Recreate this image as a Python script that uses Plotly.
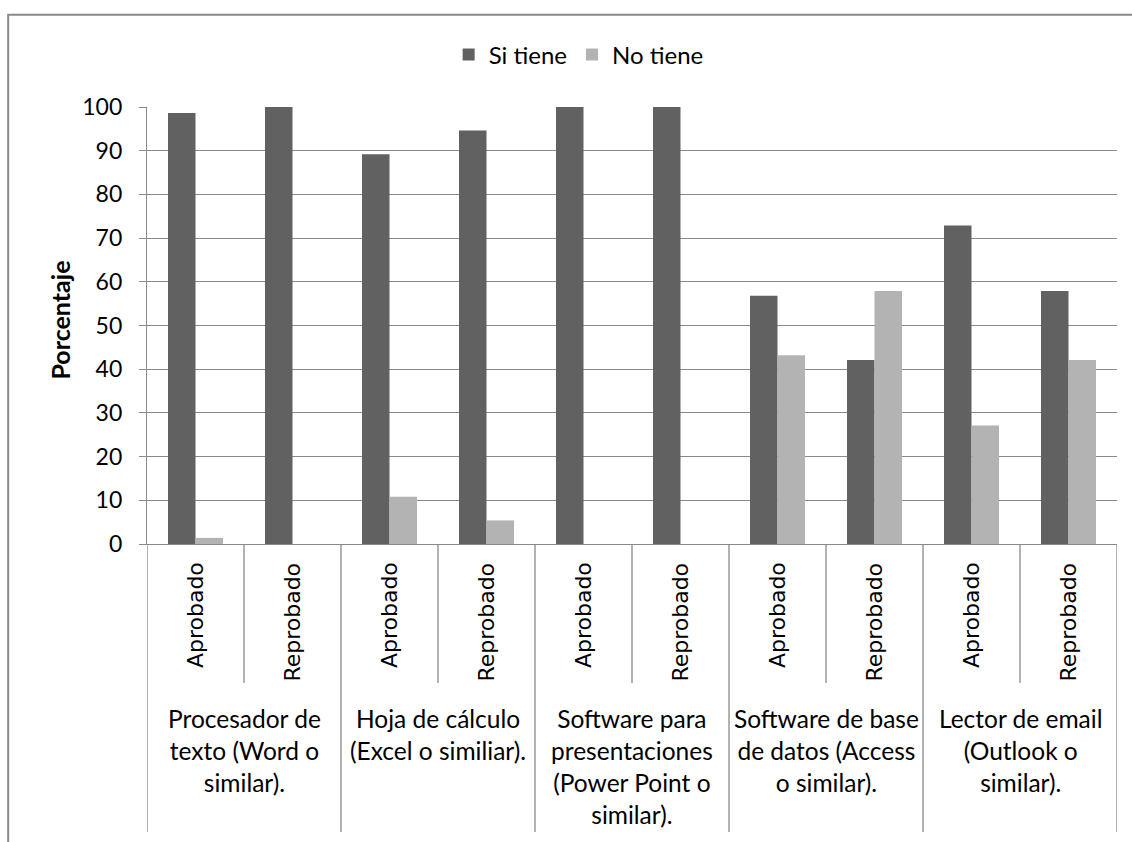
import plotly.graph_objects as go

# ---- data ----
groups = [
    "Procesador de<br>texto (Word o<br>similar).",
    "Hoja de cálculo<br>(Excel o similiar).",
    "Software para<br>presentaciones<br>(Power Point o<br>similar).",
    "Software de base<br>de datos (Access<br>o similar).",
    "Lector de email<br>(Outlook o<br>similar).",
]
subcats = ["Aprobado", "Reprobado"]
si_tiene = [98.6, 100, 89.2, 94.6, 100, 100, 56.8, 42.1, 72.9, 57.9]
no_tiene = [1.4, 0, 10.8, 5.4, 0, 0, 43.2, 57.9, 27.1, 42.1]
series_names = ["Si tiene", "No tiene"]
y_ticks = list(range(0, 101, 10))

# ---- derived positions ----
inner_labels = [s for _ in groups for s in subcats]
xpos = list(range(len(inner_labels)))

C_DARK = "#616161"
C_LIGHT = "#b3b3b3"
C_LINE = "#898989"
FONT = "Lato, Calibri, Carlito, sans-serif"
FONT_ROT = "DejaVu Sans, Verdana, sans-serif"

fig = go.Figure()
fig.add_trace(go.Bar(x=xpos, y=si_tiene, name=series_names[0],
                     marker=dict(color=C_DARK, line=dict(width=0))))
fig.add_trace(go.Bar(x=xpos, y=no_tiene, name=series_names[1],
                     marker=dict(color=C_LIGHT, line=dict(width=0))))

n = len(xpos)
shapes = []
# outer chart border
shapes.append(dict(type="rect", xref="paper", yref="paper",
                   x0=-0.1431, x1=1.0193, y0=-0.6995, y1=1.2112,
                   line=dict(color=C_LINE, width=2), layer="below"))
# inner dividers (between subcategories)
for g in range(len(groups)):
    for k in range(1, len(subcats)):
        xb = g * len(subcats) + k - 0.5
        shapes.append(dict(type="line", xref="x", yref="paper",
                           x0=xb, x1=xb, y0=0, y1=-0.318,
                           line=dict(color=C_LINE, width=1.3)))
# group dividers
for g in range(len(groups) + 1):
    xb = g * len(subcats) - 0.5
    shapes.append(dict(type="line", xref="x", yref="paper",
                       x0=xb, x1=xb, y0=0, y1=-0.659,
                       line=dict(color=C_LINE, width=1.3)))

annotations = []
for i, lab in enumerate(inner_labels):
    annotations.append(dict(x=xpos[i], y=-0.038, xref="x", yref="paper",
                            text=lab, textangle=-90, showarrow=False,
                            xanchor="center", yanchor="top",
                            font=dict(family=FONT_ROT, size=22, color="black")))
for g, lab in enumerate(groups):
    xc = g * len(subcats) + (len(subcats) - 1) / 2
    annotations.append(dict(x=xc, y=-0.362, xref="x", yref="paper",
                            text=lab, showarrow=False, align="center",
                            xanchor="center", yanchor="top",
                            font=dict(family=FONT, size=24.5, color="black")))
annotations.append(dict(x=-0.09, y=0.513, xref="paper", yref="paper",
                        text="<b>Porcentaje</b>", textangle=-90, showarrow=False,
                        xanchor="center", yanchor="middle",
                        font=dict(family=FONT, size=25, color="black")))

fig.update_layout(
    width=1132, height=842,
    margin=dict(l=147, r=15, t=107, b=298),
    paper_bgcolor="white", plot_bgcolor="white",
    barmode="group", bargap=0.433, bargroupgap=0,
    showlegend=True,
    legend=dict(orientation="h", x=0.445, xanchor="center", y=1.119, yanchor="middle",
                font=dict(family=FONT, size=24, color="black"),
                itemwidth=30, bgcolor="rgba(0,0,0,0)"),
    xaxis=dict(range=[-0.5, n - 0.5], showticklabels=False, showgrid=False,
               zeroline=False, showline=True, linecolor=C_LINE, linewidth=1.3,
               ticks=""),
    yaxis=dict(range=[0, 100], tickvals=y_ticks, showgrid=True, gridcolor=C_LINE,
               gridwidth=1.3, zeroline=False, showline=True, linecolor=C_LINE,
               linewidth=1.3, ticks="outside", ticklen=7, tickcolor=C_LINE,
               tickwidth=1.3, ticklabelstandoff=12,
               tickfont=dict(family=FONT, size=23, color="black")),
    shapes=shapes,
    annotations=annotations,
)

fig.write_html("out.html", config={"displayModeBar": False},
               post_script="document.body.style.margin='0';")
